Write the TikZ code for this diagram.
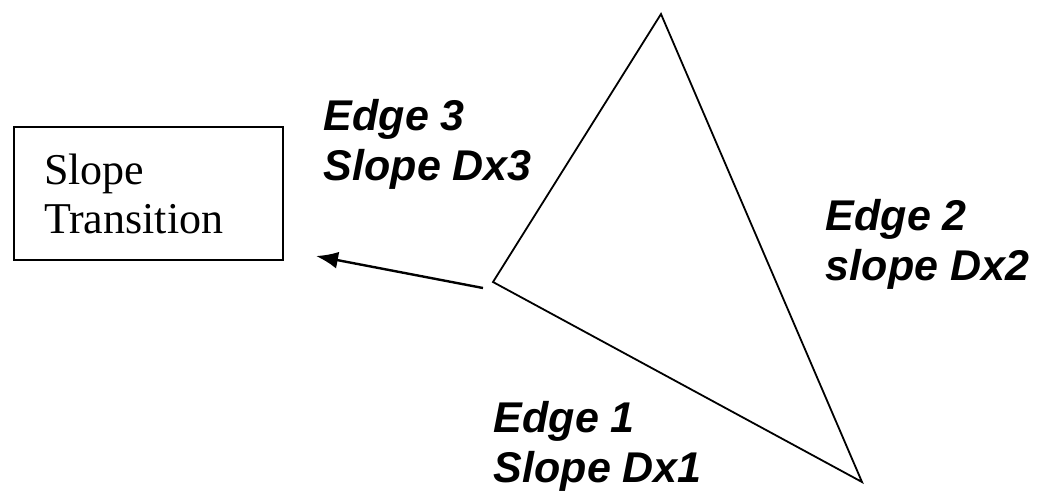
\documentclass[tikz,border=0pt]{standalone}
\usepackage{fontspec}
\setmainfont{Liberation Serif}
\setsansfont{Liberation Sans}
\usetikzlibrary{positioning,arrows.meta}

\begin{document}
\begin{tikzpicture}[x=0.5pt, y=-0.5pt, line width=0.9pt, >={Latex[length=11pt,width=8.5pt]},
      lbl/.style={font=\sffamily\bfseries\itshape\fontsize{21.5}{25}\selectfont, align=left,
                  inner sep=0pt, anchor=north west},
      trans/.style={draw, line width=1pt, font=\fontsize{22}{24.5}\selectfont, align=left,
                    text width=104.5pt, inner xsep=15pt, minimum height=66.5pt, anchor=north west}]
    \useasboundingbox (0,0) rectangle (1051,495);
    % triangle
    \coordinate (top) at (661,14);
    \coordinate (lft) at (493,282);
    \coordinate (bot) at (862,482);
    \draw (top) -- (lft) -- (bot) -- cycle;
    \node[trans] (st) at (13,126) {Slope\\Transition};
    \coordinate (tail) at (483,288);
    \coordinate (tip) at (316,256);
    \draw[->, line width=1.2pt] (tail) -- (tip);
    \node[lbl] (e3) at (323,98) {Edge 3\\Slope Dx3};
    \node[lbl] (e2) at (825,198) {Edge 2\\slope Dx2};
    \node[lbl] (e1) at (493,400) {Edge 1\\Slope Dx1};
  \end{tikzpicture}
\end{document}
